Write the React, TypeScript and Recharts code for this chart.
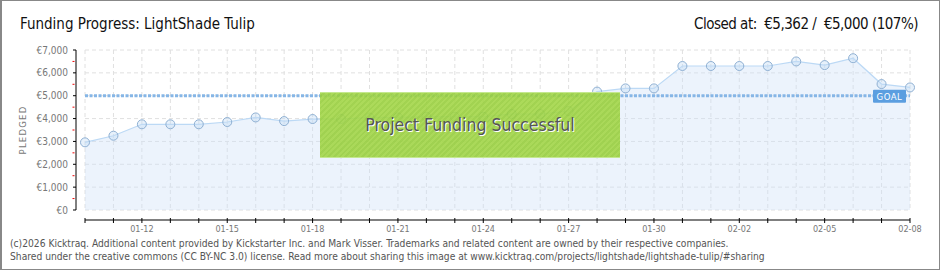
import {
  Area,
  CartesianGrid,
  ComposedChart,
  ReferenceLine,
  XAxis,
  YAxis,
} from "recharts";

const dates = [
  "01-10", "01-11", "01-12", "01-13", "01-14", "01-15", "01-16", "01-17",
  "01-18", "01-19", "01-20", "01-21", "01-22", "01-23", "01-24", "01-25",
  "01-26", "01-27", "01-28", "01-29", "01-30", "01-31", "02-01", "02-02",
  "02-03", "02-04", "02-05", "02-06", "02-07", "02-08",
];

const pledged = [
  2960, 3250, 3750, 3750, 3750, 3850, 4050, 3890, 3980, 3980, 4050, 4050,
  4080, 4080, 4080, 4200, 4200, 4330, 5180, 5320, 5320, 6300, 6300, 6300,
  6300, 6500, 6340, 6640, 5510, 5362,
];

const yTicks = [0, 500, 1000, 1500, 2000, 2500, 3000, 3500, 4000, 4500, 5000, 5500, 6000, 6500, 7000];
const yGrid = [0, 1000, 2000, 3000, 4000, 5000, 6000, 7000];
const goal = 5000;

const data = dates.map((d, i) => ({ date: d, pledged: pledged[i] }));

// layout
const CHART_W = 938;
const CHART_H = 268;
const margin = { top: 49, right: 30, bottom: 29, left: 23 };
const Y_W = 60;
const X_H = 30;
const PLOT_W = CHART_W - margin.left - margin.right - Y_W;
const PLOT_H = CHART_H - margin.top - margin.bottom - X_H;
const X_GAP = 10; // x axis sits below the plot
const Y_GAP = 9; // y axis sits left of the plot

const narrow = "'Liberation Sans Narrow', 'DejaVu Sans Condensed', sans-serif";
const small = "'DejaVu Sans Condensed', 'DejaVu Sans', sans-serif";

const fmt = (v: number) => "€" + v.toLocaleString("en-US");

function XTick(props: any) {
  const { x, y, index, payload } = props;
  const ay = y + X_GAP;
  return (
    <g>
      {index === 0 && <line x1={x} x2={x + PLOT_W} y1={ay} y2={ay} stroke="#000" />}
      <line x1={x} x2={x} y1={ay - 2} y2={ay + 3} stroke="#000" />
      {index % 3 === 2 && (
        <text x={x} y={ay + 12} textAnchor="middle" fontSize={9} fill="#777" fontFamily={small}>
          {payload.value}
        </text>
      )}
    </g>
  );
}

function YTick(props: any) {
  const { x, y, payload } = props;
  const ax = x - Y_GAP;
  const major = payload.value % 1000 === 0;
  return (
    <g>
      {payload.value === 0 && <line x1={ax} x2={ax} y1={y} y2={y - PLOT_H} stroke="#000" />}
      {major ? (
        <line x1={ax - 3} x2={ax} y1={y} y2={y} stroke="#000" />
      ) : (
        <line x1={ax - 3.5} x2={ax - 1.5} y1={y} y2={y} stroke="#e00" />
      )}
      {major && (
        <text x={ax - 8} y={y + 3.5} textAnchor="end" fontSize={10} fill="#777" fontFamily={small}>
          {fmt(payload.value)}
        </text>
      )}
    </g>
  );
}

function GoalLabel(props: any) {
  const { viewBox } = props;
  const x = viewBox.x + viewBox.width - 37;
  const y = viewBox.y - 6;
  return (
    <g>
      <rect x={x} y={y} width={33} height={13} rx={1} fill="#5b9ee0" />
      <text x={x + 16.5} y={y + 10} textAnchor="middle" fontSize={9.5} fill="#fff" fontFamily={small} letterSpacing={0.5}>
        GOAL
      </text>
    </g>
  );
}

export default function App() {
  return (
    <div
      style={{
        position: "relative",
        width: 940,
        height: 270,
        boxSizing: "border-box",
        border: "1px solid #888",
        borderLeftWidth: 2,
        background: "#fff",
        overflow: "hidden",
      }}
    >
      <style>{`body { margin: 0; }`}</style>
      <div style={{ position: "absolute", left: 0, top: 0 }}>
        <ComposedChart width={CHART_W} height={CHART_H} data={data} margin={margin}>
          <CartesianGrid stroke="#e0e0e0" strokeDasharray="4 3" horizontalValues={yGrid} />
          <XAxis
            dataKey="date"
            interval={0}
            tickSize={0}
            tickMargin={0}
            tickLine={false}
            axisLine={false}
            height={X_H}
            tick={<XTick />}
          />
          <YAxis
            domain={[0, 7000]}
            ticks={yTicks}
            interval={0}
            width={Y_W}
            tickSize={0}
            tickMargin={0}
            tickLine={false}
            axisLine={false}
            tick={<YTick />}
          />
          <Area
            type="linear"
            dataKey="pledged"
            stroke="#bcd9f5"
            strokeWidth={1.2}
            fill="#cfe2f8"
            fillOpacity={0.4}
            dot={{ r: 4.5, fill: "#c2dbf5", stroke: "#8fb0d3", strokeWidth: 1 }}
            activeDot={false}
            isAnimationActive={false}
          />
          <ReferenceLine
            y={goal}
            stroke="#86b6e6"
            strokeWidth={3}
            strokeDasharray="3 1.5"
            label={<GoalLabel />}
          />
        </ComposedChart>
      </div>

      <svg width={40} height={268} style={{ position: "absolute", left: 0, top: 0 }}>
        <text
          x={0}
          y={0}
          transform="translate(24,129) rotate(-90)"
          textAnchor="middle"
          fontSize={9.5}
          fill="#777"
          fontFamily={small}
          letterSpacing={1.2}
        >
          PLEDGED
        </text>
      </svg>

      <div
        style={{
          position: "absolute",
          left: 18,
          top: 14,
          fontFamily: narrow,
          fontSize: 15,
          color: "#111",
          whiteSpace: "nowrap",
        }}
      >
        Funding Progress: LightShade Tulip
      </div>
      <div
        style={{
          position: "absolute",
          right: 21,
          top: 14,
          fontFamily: narrow,
          fontSize: 15,
          letterSpacing: -0.5,
          color: "#111",
          whiteSpace: "nowrap",
        }}
      >
        Closed at:&nbsp; €5,362 / &nbsp;€5,000 (107%)
      </div>

      <div
        style={{
          position: "absolute",
          left: 318,
          top: 91,
          width: 300,
          height: 66,
          boxSizing: "border-box",
          borderTop: "1px solid #c4e890",
          borderBottom: "1px solid #c4e890",
          background:
            "repeating-linear-gradient(135deg, rgba(163,214,72,0.9) 0px, rgba(163,214,72,0.9) 2px, rgba(152,206,62,0.9) 2px, rgba(152,206,62,0.9) 4px)",
          display: "flex",
          alignItems: "center",
          justifyContent: "center",
          fontFamily: narrow,
          fontSize: 17.5,
          color: "#555",
          textShadow: "1px 1px 0 #fff",
          whiteSpace: "nowrap",
        }}
      >
        Project Funding Successful
      </div>

      <div
        style={{
          position: "absolute",
          left: 8,
          top: 236,
          fontFamily: small,
          fontSize: 10.2,
          lineHeight: "13px",
          color: "#555",
          whiteSpace: "nowrap",
        }}
      >
        <div>
          (c)2026 Kicktraq. Additional content provided by Kickstarter Inc. and Mark Visser. Trademarks and related content are owned by their respective companies.
        </div>
        <div>
          Shared under the creative commons (CC BY-NC 3.0) license. Read more about sharing this image at www.kicktraq.com/projects/lightshade/lightshade-tulip/#sharing
        </div>
      </div>
    </div>
  );
}
